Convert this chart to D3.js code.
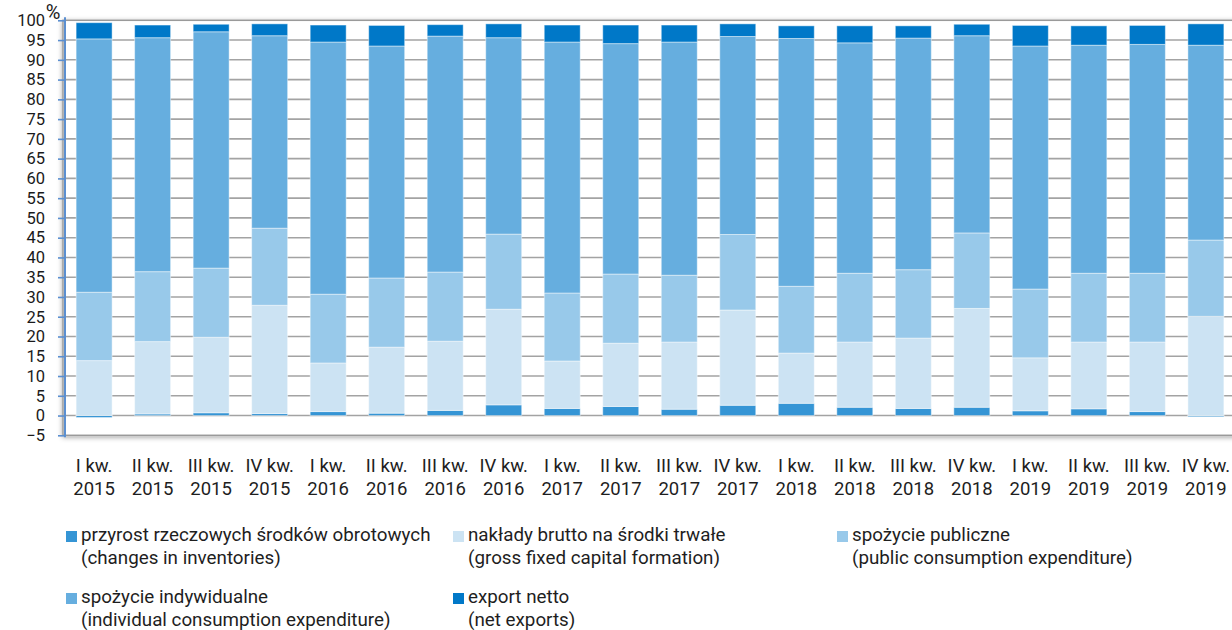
<!DOCTYPE html>
<html>
<head>
<meta charset="utf-8">
<script src="https://cdn.jsdelivr.net/npm/d3@7"></script>
<style>
  body { margin: 0; background: #fff; }
  svg { display: block; }
  .lbl { font-family: 'Roboto', sans-serif; fill: #1e1e1e; }
</style>
</head>
<body>
<svg width="1232" height="630"></svg>
<script>
var quarters = ['I', 'II', 'III', 'IV', 'I', 'II', 'III', 'IV', 'I', 'II', 'III', 'IV', 'I', 'II', 'III', 'IV', 'I', 'II', 'III', 'IV'];
var years = ['2015', '2015', '2015', '2015', '2016', '2016', '2016', '2016', '2017', '2017', '2017', '2017', '2018', '2018', '2018', '2018', '2019', '2019', '2019', '2019'];

// shares of GDP, %
var inventories = [-0.5, 0.4, 0.7, 0.5, 1.0, 0.6, 1.3, 2.7, 1.8, 2.3, 1.6, 2.6, 3.1, 2.1, 1.8, 2.1, 1.2, 1.7, 1.0, -0.3];
var fixedCapital = [13.9, 18.3, 19.1, 27.4, 12.3, 16.7, 17.5, 24.2, 12.0, 16.0, 17.0, 24.1, 12.7, 16.5, 17.8, 25.0, 13.4, 16.9, 17.6, 25.1];
var publicCons = [17.3, 17.7, 17.5, 19.5, 17.4, 17.5, 17.5, 19.0, 17.2, 17.5, 16.9, 19.1, 16.9, 17.4, 17.3, 19.1, 17.4, 17.4, 17.4, 19.3];
var individualCons = [64.1, 59.2, 59.8, 48.7, 63.8, 58.7, 59.7, 49.7, 63.5, 58.3, 59.0, 50.1, 62.7, 58.3, 58.6, 49.9, 61.5, 57.7, 57.9, 49.3];
var netExports = [4.1, 3.2, 1.9, 3.0, 4.3, 5.2, 2.9, 3.5, 4.3, 4.7, 4.3, 3.2, 3.2, 4.3, 3.1, 2.9, 5.2, 4.9, 4.8, 5.4];

var yTicks = [-5, 0, 5, 10, 15, 20, 25, 30, 35, 40, 45, 50, 55, 60, 65, 70, 75, 80, 85, 90, 95, 100];

var keys = ['inv', 'gfcf', 'pub', 'ind', 'net'];
var namesPl = ['przyrost rzeczowych środków obrotowych', 'nakłady brutto na środki trwałe', 'spożycie publiczne', 'spożycie indywidualne', 'export netto'];
var namesEn = ['(changes in inventories)', '(gross fixed capital formation)', '(public consumption expenditure)', '(individual consumption expenditure)', '(net exports)'];
var colors = ['#3595d5', '#cce3f3', '#98c9ea', '#66aedf', '#0078c8'];

var width = 1232;
var height = 630;
var margin = {top: 20.3, bottom: 194.7, left: 65, right: -3};

var data = quarters.map((q, i) => ({
  id: i,
  inv: inventories[i],
  gfcf: fixedCapital[i],
  pub: publicCons[i],
  ind: individualCons[i],
  net: netExports[i]
}));

var series = d3.stack()
  .keys(keys)
  .offset(d3.stackOffsetDiverging)(data);

var xScale = d3.scaleBand()
  .domain(data.map(d => d.id))
  .range([margin.left, width - margin.right])
  .paddingInner(0.385)
  .paddingOuter(0.19);

var yScale = d3.scaleLinear()
  .domain([-5, 100])
  .range([height - margin.bottom, margin.top]);

var color = d3.scaleOrdinal().domain(keys).range(colors);

var svg = d3.select('svg');

var defs = svg.append('defs');
var shadow = defs.append('filter')
  .attr('id', 'shadow')
  .attr('x', '-5%').attr('y', '-5%')
  .attr('width', '110%').attr('height', '110%');
shadow.append('feDropShadow')
  .attr('dx', 0)
  .attr('dy', 1.5)
  .attr('stdDeviation', 2.5)
  .attr('flood-color', '#000')
  .attr('flood-opacity', 0.35);

// plot frame
svg.append('rect')
  .attr('x', margin.left - 2)
  .attr('y', yScale(100))
  .attr('width', width + 20)
  .attr('height', yScale(-5) - yScale(100))
  .attr('fill', '#fff')
  .attr('stroke', '#9a9a9a')
  .attr('stroke-width', 1.5)
  .attr('filter', 'url(#shadow)');

// gridlines
svg.append('g')
  .selectAll('line')
  .data(yTicks.filter(t => t > -5 && t < 100))
  .join('line')
  .attr('x1', margin.left)
  .attr('x2', width)
  .attr('y1', d => yScale(d))
  .attr('y2', d => yScale(d))
  .attr('stroke', '#a3a3a3')
  .attr('stroke-width', 1.6);

// bars
svg.append('g')
  .selectAll('g')
  .data(series)
  .join('g')
  .attr('fill', d => color(d.key))
  .selectAll('rect')
  .data(d => d)
  .join('rect')
  .attr('x', d => xScale(d.data.id))
  .attr('width', xScale.bandwidth())
  .attr('y', d => yScale(Math.max(d[0], d[1])))
  .attr('height', d => Math.abs(yScale(d[0]) - yScale(d[1])))
  .attr('stroke', 'rgba(255,255,255,0.45)')
  .attr('stroke-width', 1);

// y axis
var yAxis = d3.axisLeft(yScale)
  .tickValues(yTicks)
  .tickSize(7)
  .tickPadding(13)
  .tickFormat(d3.format('d'));

var yG = svg.append('g')
  .attr('transform', 'translate(' + [margin.left, 0] + ')')
  .call(yAxis);
yG.select('.domain')
  .attr('d', 'M0,' + (yScale(100) - 3) + 'V' + (yScale(-5) + 2))
  .attr('stroke', '#5b8fd0')
  .attr('stroke-width', 2);
yG.selectAll('.tick line')
  .attr('stroke', '#5b8fd0')
  .attr('stroke-width', 1.6);
yG.selectAll('.tick text')
  .attr('font-family', "'Roboto', sans-serif")
  .attr('font-size', 16.5)
  .attr('fill', '#1a1a1a');

// unit label, sits just right of "100"
svg.append('text')
  .attr('x', 53)
  .attr('y', 19)
  .attr('text-anchor', 'middle')
  .attr('font-family', "'Roboto', sans-serif")
  .attr('font-size', 20)
  .attr('fill', '#1a1a1a')
  .text('%');

// x labels (two lines)
var xLab = svg.append('g')
  .selectAll('text')
  .data(data)
  .join('text')
  .attr('class', 'lbl')
  .attr('font-size', 18.5)
  .attr('text-anchor', 'middle')
  .attr('x', d => xScale(d.id) + xScale.bandwidth() / 2);
xLab.append('tspan')
  .attr('y', 472)
  .text(d => quarters[d.id] + ' kw.');
xLab.append('tspan')
  .attr('x', d => xScale(d.id) + xScale.bandwidth() / 2)
  .attr('y', 495)
  .text(d => years[d.id]);

// legend
var legendX = [66, 453, 837, 66, 453];
var legendY = [541, 541, 541, 603, 603];
var legend = svg.append('g')
  .selectAll('g')
  .data(keys)
  .join('g')
  .attr('transform', (d, i) => 'translate(' + [legendX[i], legendY[i]] + ')');
legend.append('rect')
  .attr('x', 0)
  .attr('y', -10)
  .attr('width', 11)
  .attr('height', 11)
  .attr('fill', d => color(d));
var legText = legend.append('text')
  .attr('class', 'lbl')
  .attr('font-size', 18.8);
legText.append('tspan')
  .attr('x', 15)
  .attr('y', 0)
  .text((d, i) => namesPl[i]);
legText.append('tspan')
  .attr('x', 15)
  .attr('y', 23)
  .text((d, i) => namesEn[i]);
</script>
</body>
</html>
